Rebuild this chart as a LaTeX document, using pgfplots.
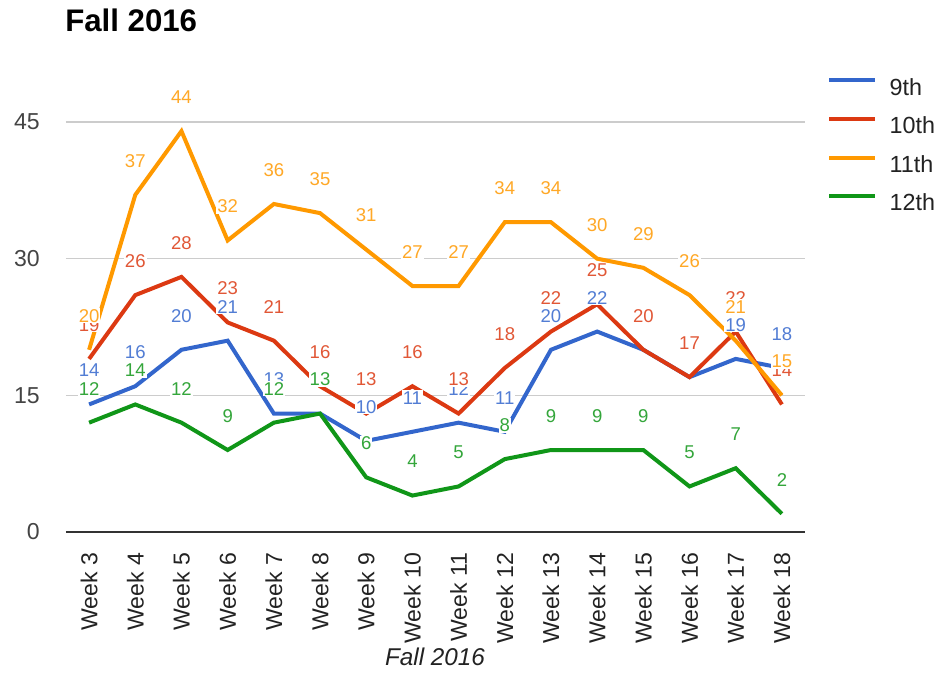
\documentclass[border=0pt]{standalone}
\usepackage{pgfplots}
\usepackage{pgfplotstable}
\pgfplotsset{compat=1.18}
\usepackage{fontspec}
\setmainfont{Liberation Sans}
\definecolor{cA}{HTML}{3366CC}
\definecolor{cB}{HTML}{DC3912}
\definecolor{cC}{HTML}{FF9900}
\definecolor{cD}{HTML}{109618}
\definecolor{gridc}{HTML}{CCCCCC}
\definecolor{basec}{HTML}{333333}
\definecolor{txt}{HTML}{222222}
\definecolor{ytxt}{HTML}{444444}
\pgfplotstableread{
x  g9 g10 g11 g12
0  14 19  20  12
1  16 26  37  14
2  20 28  44  12
3  21 23  32  9
4  13 21  36  12
5  13 16  35  13
6  10 13  31  6
7  11 16  27  4
8  12 13  27  5
9  11 18  34  8
10 20 22  34  9
11 22 25  30  9
12 20 20  29  9
13 17 17  26  5
14 19 22  21  7
15 18 14  15  2
}\data
\begin{document}
\begin{tikzpicture}
\path[use as bounding box] (-49.5pt,-105pt) rectangle (655.5pt,399pt);
\begin{axis}[
  at={(0,0)}, anchor=south west,
  scale only axis, width=554.25pt, height=307.5pt,
  xmin=-0.5, xmax=15.5, ymin=0, ymax=45,
  clip=false,
  axis line style={draw=none},
  tick style={draw=none},
  /pgf/number format/assume math mode=true,
  ytick={15,30,45},
  extra y ticks={0},
  extra y tick style={grid style={draw=basec, line width=1.1pt}},
  ymajorgrids,
  grid style={draw=gridc, line width=0.8pt},
  yticklabel style={font=\fontsize{17.3}{20}\selectfont, text=ytxt, inner sep=0pt},
  yticklabel shift=19.5pt,
  xtick={0,...,15},
  xticklabels={Week 3,Week 4,Week 5,Week 6,Week 7,Week 8,Week 9,Week 10,Week 11,Week 12,Week 13,Week 14,Week 15,Week 16,Week 17,Week 18},
  xticklabel style={rotate=90, anchor=east, inner sep=0pt, font=\fontsize{17.3}{20}\selectfont, text=txt},
  xticklabel shift=15.5pt,
  every node near coord/.append style={anchor=center, yshift=25.5pt, font=\fontsize{13.9}{16}\selectfont, inner sep=0.7pt, fill=white},
  legend style={at={(1.0298,1.1088)}, anchor=north west, draw=none, fill=none, inner sep=0pt,
    nodes={inner sep=0pt, text height=13pt, text depth=4pt, text=txt, font=\fontsize{17.5}{20}\selectfont},
    row sep=11.9pt, column sep=9.75pt},
  legend cell align=left,
  legend image code/.code={\draw[#1] (0pt,6.4pt) -- (34pt,6.4pt);},
]
\addplot[cA, line width=3pt] table[x=x, y=g9] {\data};
\addlegendentry{9th}
\addplot[cB, line width=3pt] table[x=x, y=g10] {\data};
\addlegendentry{10th}
\addplot[cC, line width=3pt] table[x=x, y=g11] {\data};
\addlegendentry{11th}
\addplot[cD, line width=3pt] table[x=x, y=g12] {\data};
\addlegendentry{12th}
% data labels on top of all lines
\addplot[draw=none, forget plot, nodes near coords,
  every node near coord/.append style={text=cA!85!white}] table[x=x, y=g9] {\data};
\addplot[draw=none, forget plot, nodes near coords,
  every node near coord/.append style={text=cB!85!white}] table[x=x, y=g10] {\data};
\addplot[draw=none, forget plot, nodes near coords,
  every node near coord/.append style={text=cC!85!white}] table[x=x, y=g11] {\data};
\addplot[draw=none, forget plot, nodes near coords,
  every node near coord/.append style={text=cD!85!white}] table[x=x, y=g12] {\data};
\end{axis}
\node[anchor=base west, inner sep=0pt, font=\bfseries\fontsize{23.4}{28}\selectfont, text=black] at (-0.75pt,375pt) {Fall 2016};
\node[anchor=base, inner sep=0pt, font=\itshape\fontsize{18.2}{22}\selectfont, text=txt] at (276.75pt,-99.75pt) {Fall 2016};
\end{tikzpicture}
\end{document}
